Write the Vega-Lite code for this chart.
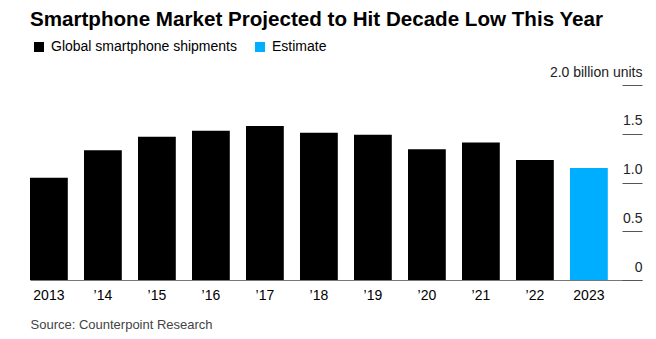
{
  "$schema": "https://vega.github.io/schema/vega-lite/v6.json",
  "width": 612,
  "height": 195,
  "autosize": {"type": "none"},
  "padding": {"left": 30, "top": 85, "right": 14, "bottom": 59},
  "background": "white",
  "title": {
    "text": "Smartphone Market Projected to Hit Decade Low This Year",
    "anchor": "start",
    "frame": "group",
    "font": "Liberation Sans",
    "fontSize": 20.6,
    "fontWeight": "bold",
    "color": "#000000",
    "offset": 9
  },
  "data": {
    "values": [
      {"year": "2013", "shipments": 1.05, "series": "Global smartphone shipments"},
      {"year": "’14", "shipments": 1.33, "series": "Global smartphone shipments"},
      {"year": "’15", "shipments": 1.47, "series": "Global smartphone shipments"},
      {"year": "’16", "shipments": 1.53, "series": "Global smartphone shipments"},
      {"year": "’17", "shipments": 1.58, "series": "Global smartphone shipments"},
      {"year": "’18", "shipments": 1.51, "series": "Global smartphone shipments"},
      {"year": "’19", "shipments": 1.49, "series": "Global smartphone shipments"},
      {"year": "’20", "shipments": 1.34, "series": "Global smartphone shipments"},
      {"year": "’21", "shipments": 1.41, "series": "Global smartphone shipments"},
      {"year": "’22", "shipments": 1.23, "series": "Global smartphone shipments"},
      {"year": "2023", "shipments": 1.15, "series": "Estimate"}
    ]
  },
  "mark": {"type": "bar"},
  "encoding": {
    "x": {
      "field": "year",
      "type": "nominal",
      "sort": null,
      "scale": {"paddingInner": 0.3, "paddingOuter": 0.3167, "align": 0},
      "axis": {
        "orient": "bottom",
        "domain": true,
        "domainColor": "#777777",
        "domainWidth": 1,
        "ticks": false,
        "labelAngle": 0,
        "labelFont": "Liberation Sans",
        "labelFontSize": 14,
        "labelColor": "#000000",
        "labelPadding": 8,
        "title": "Source: Counterpoint Research",
        "titleAnchor": "start",
        "titleAlign": "left",
        "titleFont": "Liberation Sans",
        "titleFontSize": 13,
        "titleFontWeight": "normal",
        "titleColor": "#444444",
        "titlePadding": 16
      }
    },
    "y": {
      "field": "shipments",
      "type": "quantitative",
      "scale": {"domain": [0, 2]},
      "axis": {
        "orient": "right",
        "offset": -20,
        "domain": false,
        "grid": false,
        "ticks": true,
        "tickSize": 20,
        "tickColor": "#555555",
        "tickWidth": 1,
        "values": [0, 0.5, 1, 1.5, 2],
        "labelExpr": "datum.value == 2 ? '2.0 billion units' : datum.value == 0 ? '0' : format(datum.value, '.1f')",
        "labelAlign": "right",
        "labelBaseline": "alphabetic",
        "labelOffset": -9,
        "labelPadding": 0,
        "labelFlush": false,
        "labelOverlap": false,
        "labelFont": "Liberation Sans",
        "labelFontSize": 14,
        "labelColor": "#222222",
        "title": null
      }
    },
    "color": {
      "field": "series",
      "type": "nominal",
      "scale": {
        "domain": ["Global smartphone shipments", "Estimate"],
        "range": ["#000000", "#00aeff"]
      },
      "legend": {
        "orient": "none",
        "legendX": 2,
        "legendY": -45,
        "direction": "horizontal",
        "title": null,
        "symbolType": "square",
        "symbolSize": 100,
        "symbolStrokeWidth": 0,
        "labelFont": "Liberation Sans",
        "labelFontSize": 14,
        "labelColor": "#000000",
        "labelOffset": 5,
        "labelLimit": 0,
        "columnPadding": 16,
        "padding": 0
      }
    }
  },
  "config": {"view": {"stroke": null}, "font": "Liberation Sans"}
}
